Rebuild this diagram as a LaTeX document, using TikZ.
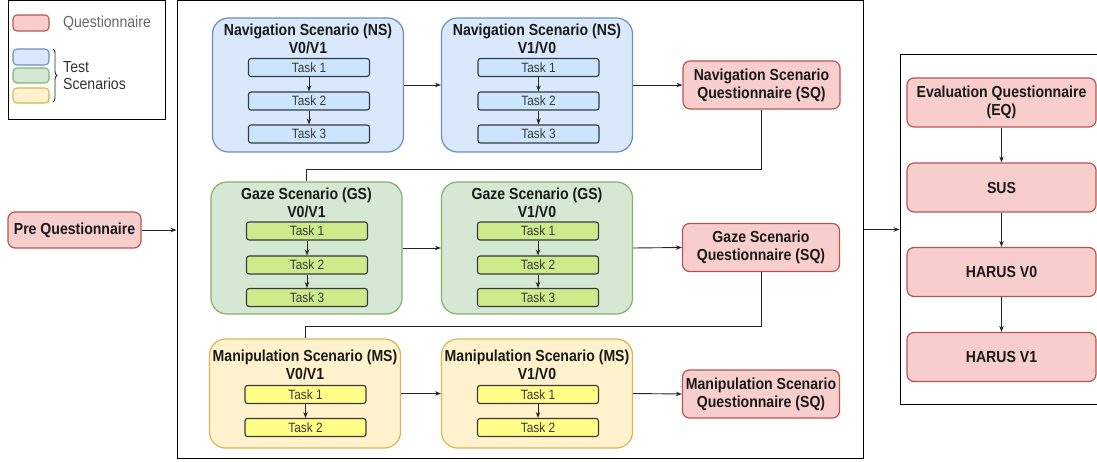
\documentclass[tikz,border=0pt]{standalone}
\usepackage{fontspec}
\setmainfont{Liberation Sans}
\newfontfamily\dfont[FakeStretch=0.88]{Liberation Sans}
\usetikzlibrary{arrows.meta,decorations.pathreplacing}
\definecolor{qfill}{HTML}{F8CECC}\definecolor{qdraw}{HTML}{B85450}
\definecolor{bfill}{HTML}{DAE8FC}\definecolor{bdraw}{HTML}{6C8EBF}
\definecolor{gfill}{HTML}{D5E8D4}\definecolor{gdraw}{HTML}{82B366}
\definecolor{yfill}{HTML}{FFF2CC}\definecolor{ydraw}{HTML}{D6B656}
\definecolor{tbfill}{HTML}{CCE5FF}\definecolor{tgfill}{HTML}{CDEB8B}\definecolor{tyfill}{HTML}{FFFF88}
\definecolor{tdraw}{HTML}{36393D}\definecolor{ttext}{HTML}{3A3A3A}
\begin{document}
\begin{tikzpicture}[x=1pt,y=-1pt,
  scen/.style={draw, line width=1.2pt, rounded corners=16pt, minimum width=191pt, inner sep=0pt},
  nsbox/.style={scen, fill=bfill, draw=bdraw, minimum height=134pt},
  gsbox/.style={scen, fill=gfill, draw=gdraw, minimum height=132pt},
  msbox/.style={scen, fill=yfill, draw=ydraw, minimum height=109pt},
  ttl/.style={align=center, inner sep=0pt, text=black!90, font=\dfont\bfseries\fontsize{16}{18}\selectfont},
  task/.style={draw=tdraw, line width=1.1pt, rounded corners=2.5pt, minimum width=121pt, minimum height=18pt, inner sep=0pt, text=ttext, font=\dfont\fontsize{13.5}{14}\selectfont},
  tb/.style={task, fill=tbfill}, tg/.style={task, fill=tgfill}, ty/.style={task, fill=tyfill},
  quest/.style={draw=qdraw, fill=qfill, line width=1.2pt, rounded corners=7pt, inner sep=0pt, align=center, text=black!90, font=\dfont\bfseries\fontsize{16}{18}\selectfont},
  sq/.style={quest, minimum width=157pt, minimum height=48pt},
  eq/.style={quest, minimum width=189pt, minimum height=49pt},
  frame/.style={draw=black, line width=1pt, inner sep=0pt},
  conn/.style={draw=black!85, line width=0.9pt},
  arr/.style={conn, -{Stealth[length=6pt,width=4.5pt]}},
  leg/.style={line width=1.1pt, rounded corners=4pt, minimum width=36pt, inner sep=0pt},
  legtext/.style={inner sep=0pt, anchor=west, align=left, font=\dfont\fontsize{16}{17}\selectfont}
]
\useasboundingbox (0,0) rectangle (1097,462);
\clip (0,0) rectangle (1097,462);

% frames
\node[frame, minimum width=157pt, minimum height=119pt] (legend) at (86.5,60.5) {};
\node[frame, minimum width=686pt, minimum height=457pt] (main) at (520,229.5) {};
\node[frame, minimum width=210pt, minimum height=350pt] (rbox) at (1005,229.5) {};

% legend
\node[leg, draw=qdraw, fill=qfill, minimum height=16pt] (lq) at (31,23) {};
\node[leg, draw=bdraw, fill=bfill, minimum height=16pt] (lb) at (31,57) {};
\node[leg, draw=gdraw, fill=gfill, minimum height=15pt] (lg) at (31,75.5) {};
\node[leg, draw=ydraw, fill=yfill, minimum height=15pt] (ly) at (31,95.5) {};
\node[legtext, text=black!60] (lqt) at (63,23) {Questionnaire};
\node[legtext, text=black!80] (ltt) at (63,75.5) {Test\\Scenarios};
\coordinate (bra) at (53,49);
\coordinate (brb) at (53,102);
\draw[black!85, line width=0.9pt, decorate, decoration={brace, amplitude=4pt}] (bra) -- (brb);

% pre questionnaire
\node[quest, minimum width=133pt, minimum height=36pt] (pre) at (74.5,230) {Pre Questionnaire};

% navigation row
\node[nsbox] (ns1) at (308,85) {};
\node[ttl] (ns1t) at (308,39) {Navigation Scenario (NS)\\V0/V1};
\node[tb] (ns1a) at (309,67.5) {Task 1};
\node[tb] (ns1b) at (309,101) {Task 2};
\node[tb] (ns1c) at (309,134) {Task 3};
\node[nsbox] (ns2) at (537,85) {};
\node[ttl] (ns2t) at (537,39) {Navigation Scenario (NS)\\V1/V0};
\node[tb] (ns2a) at (538.5,67.5) {Task 1};
\node[tb] (ns2b) at (538.5,101) {Task 2};
\node[tb] (ns2c) at (538.5,134) {Task 3};
\node[sq] (nsq) at (761.5,85) {Navigation Scenario\\Questionnaire (SQ)};

% gaze row
\node[gsbox] (gs1) at (306.5,248) {};
\node[ttl] (gs1t) at (306.5,202.5) {Gaze Scenario (GS)\\V0/V1};
\node[tg] (gs1a) at (307,231) {Task 1};
\node[tg] (gs1b) at (307,265) {Task 2};
\node[tg] (gs1c) at (307,297.5) {Task 3};
\node[gsbox] (gs2) at (537,248) {};
\node[ttl] (gs2t) at (537,202.5) {Gaze Scenario (GS)\\V1/V0};
\node[tg] (gs2a) at (538,231) {Task 1};
\node[tg] (gs2b) at (538,265) {Task 2};
\node[tg] (gs2c) at (538,297.5) {Task 3};
\node[sq] (gsq) at (761,247.5) {Gaze Scenario\\Questionnaire (SQ)};

% manipulation row
\node[msbox] (ms1) at (305,393.5) {};
\node[ttl] (ms1t) at (305,365) {Manipulation Scenario (MS)\\V0/V1};
\node[ty] (ms1a) at (305.5,394.5) {Task 1};
\node[ty] (ms1b) at (305.5,427.5) {Task 2};
\node[msbox] (ms2) at (537,393.5) {};
\node[ttl] (ms2t) at (537,365) {Manipulation Scenario (MS)\\V1/V0};
\node[ty] (ms2a) at (538,394.5) {Task 1};
\node[ty] (ms2b) at (538,427.5) {Task 2};
\node[sq] (msq) at (761,394) {Manipulation Scenario\\Questionnaire (SQ)};

% evaluation column
\node[eq] (eqn) at (1001.5,102.5) {Evaluation Questionnaire\\(EQ)};
\node[eq] (sus) at (1001.5,187.5) {SUS};
\node[eq] (hv0) at (1001.5,272) {HARUS V0};
\node[eq] (hv1) at (1001.5,357) {HARUS V1};

% task arrows
\foreach \p in {ns1,ns2,gs1,gs2}{
  \draw[arr] (\p a.south) -- (\p b.north);
  \draw[arr] (\p b.south) -- (\p c.north);
}
\draw[arr] (ms1a.south) -- (ms1b.north);
\draw[arr] (ms2a.south) -- (ms2b.north);

% row connectors
\draw[arr] (ns1.east) -- (ns2.west);
\draw[arr] (ns2.east) -- (nsq.west);
\draw[arr] (gs1.east) -- (gs2.west);
\draw[arr] (gs2.east) -- (gsq.west);
\draw[arr] (ms1.east) -- (ms2.west);
\draw[arr] (ms2.east) -- (msq.west);
\draw[conn] (nsq.south) -- ++(0,60) -| (gs1.north);
\draw[conn] (gsq.south) -- ++(0,54) -| (ms1.north);

% outer connectors
\draw[arr] (pre.east) -- (pre.east -| main.west);
\draw[arr] (main.east) -- (rbox.west);
\draw[arr] (eqn.south) -- (sus.north);
\draw[arr] (sus.south) -- (hv0.north);
\draw[arr] (hv0.south) -- (hv1.north);
\end{tikzpicture}
\end{document}
